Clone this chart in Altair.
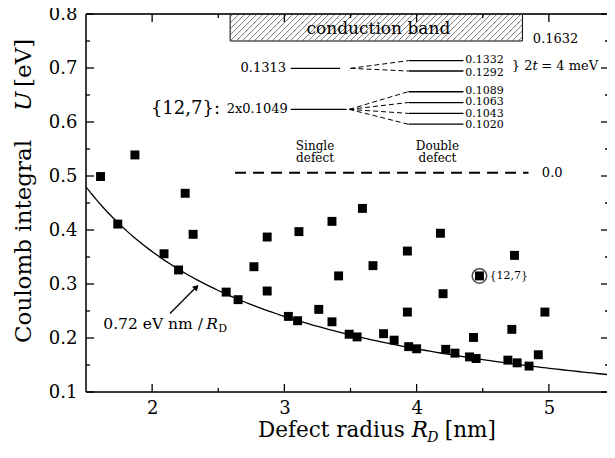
import altair as alt
import pandas as pd
import numpy as np

# ---------------- data ----------------
R_D = [1.61, 1.74, 1.87, 2.09, 2.20, 2.25, 2.31, 2.56, 2.65, 2.77, 2.87, 2.87,
       3.03, 3.10, 3.11, 3.26, 3.36, 3.36, 3.41, 3.49, 3.55, 3.59, 3.67, 3.75,
       3.83, 3.93, 3.93, 3.94, 4.00, 4.18, 4.20, 4.22, 4.29, 4.40, 4.43, 4.45,
       4.475, 4.69, 4.72, 4.74, 4.76, 4.85, 4.92, 4.97]
U = [0.499, 0.411, 0.539, 0.356, 0.326, 0.468, 0.392, 0.285, 0.271, 0.332, 0.387, 0.287,
     0.240, 0.232, 0.397, 0.253, 0.416, 0.230, 0.315, 0.207, 0.202, 0.440, 0.334, 0.208,
     0.196, 0.361, 0.248, 0.184, 0.180, 0.394, 0.282, 0.179, 0.172, 0.165, 0.201, 0.162,
     0.315, 0.159, 0.216, 0.353, 0.154, 0.148, 0.169, 0.248]
HIGHLIGHT_R = [4.475]
HIGHLIGHT_U = [0.315]
HIGHLIGHT_LABEL = ["{12,7}"]
FIT_COEF = 0.72  # U = 0.72 eV nm / R_D

X_MAJOR = [2, 3, 4, 5]
X_MINOR = [2.5, 3.5, 4.5]
Y_MAJOR = [0.1, 0.2, 0.3, 0.4, 0.5, 0.6, 0.7, 0.8]
Y_MINOR = [0.15, 0.25, 0.35, 0.45, 0.55, 0.65, 0.75]

# inset energy-level diagram (drawn in the data frame of the plot)
SINGLE_LEVELS = [0.6994, 0.6234]
DOUBLE_LEVELS = [0.7135, 0.6944, 0.656, 0.636, 0.616, 0.596]
DOUBLE_LABELS = ["0.1332", "0.1292", "0.1089", "0.1063", "0.1043", "0.1020"]
DOUBLE_LABEL_Y = [0.7148, 0.6916, 0.6577, 0.6369, 0.6157, 0.5953]
DOUBLE_PARENT = [0, 0, 1, 1, 1, 1]
ZERO_LEVEL = 0.506
BAND = dict(x0=2.59, x1=4.80, y0=0.75, y1=0.80)

# ---------------- layout ----------------
W, H = 521, 378
PX_PER_NM = 132.25
FONT = "DejaVu Serif"
XD = (1.5, 1.5 + W / PX_PER_NM)
YD = (0.1, 0.8)
kx = W / (XD[1] - XD[0])
ky = H / (YD[1] - YD[0])

xs = alt.Scale(domain=list(XD), nice=False, zero=False)
ys = alt.Scale(domain=list(YD), nice=False, zero=False)
xaxis = alt.Axis(values=X_MAJOR, format="d", title=None, ticks=False, tickSize=0,
                 domain=False, grid=False, labelFont=FONT, labelFontSize=18,
                 labelPadding=7, labelColor="black")
yaxis = alt.Axis(values=Y_MAJOR, format=".1f", title=None, ticks=False, tickSize=0,
                 domain=False, grid=False, labelFont=FONT, labelFontSize=18,
                 labelPadding=9, labelColor="black")


def X(f):
    return alt.X(f, type="quantitative", scale=xs, axis=xaxis)


def Y(f):
    return alt.Y(f, type="quantitative", scale=ys, axis=yaxis)


layers = []

# conduction band rectangle + hatching
band_df = pd.DataFrame([BAND])
layers.append(alt.Chart(band_df).mark_rect(fill="white", stroke="black", strokeWidth=1).encode(
    x=X("x0"), x2="x1", y=Y("y0"), y2="y1"))
x0p, x1p = (BAND["x0"] - XD[0]) * kx, (BAND["x1"] - XD[0]) * kx
hp = (BAND["y1"] - BAND["y0"]) * ky
hatch = []
for s in np.arange(x0p - hp + 3, x1p, 6.0):
    xa, xb, ya, yb = s, s + hp, 0.0, hp
    if xa < x0p:
        ya += x0p - xa
        xa = x0p
    if xb > x1p:
        yb -= xb - x1p
        xb = x1p
    if xb - xa < 0.5:
        continue
    hatch.append(dict(xa=XD[0] + xa / kx, xb=XD[0] + xb / kx,
                      ya=BAND["y0"] + ya / ky, yb=BAND["y0"] + yb / ky))
layers.append(alt.Chart(pd.DataFrame(hatch)).mark_rule(color="#555555", strokeWidth=0.8).encode(
    x=X("xa"), x2="xb", y=Y("ya"), y2="yb"))

# fit curve U = 0.72 / R
layers.append(alt.Chart(alt.sequence(150, 551, 4, as_="r100")).transform_calculate(
    R="datum.r100 / 100").transform_calculate(Ufit=f"{FIT_COEF} / datum.R").mark_line(
    color="black", strokeWidth=1.3, clip=True).encode(x=X("R"), y=Y("Ufit"), order="R:Q"))

# data points
pts = pd.DataFrame({"R": R_D, "U": U})
layers.append(alt.Chart(pts).mark_square(size=80, color="black", opacity=1).encode(
    x=X("R"), y=Y("U")))

# highlighted point
hl = pd.DataFrame({"R": HIGHLIGHT_R, "U": HIGHLIGHT_U, "lab": HIGHLIGHT_LABEL})
layers.append(alt.Chart(hl).mark_point(shape="circle", filled=False, size=210, color="black",
                                       strokeWidth=1.5).encode(x=X("R"), y=Y("U")))
layers.append(alt.Chart(hl).mark_text(align="left", baseline="middle", dx=10, font=FONT,
                                      fontSize=11, color="black").encode(
    x=X("R"), y=Y("U"), text="lab"))

# energy level lines
solid = [dict(x=3.048, x2=3.421, y=SINGLE_LEVELS[0]), dict(x=3.048, x2=3.47, y=SINGLE_LEVELS[1])]
solid += [dict(x=3.938, x2=4.354, y=v) for v in DOUBLE_LEVELS]
layers.append(alt.Chart(pd.DataFrame(solid)).mark_rule(color="black", strokeWidth=1.3).encode(
    x=X("x"), x2="x2", y=Y("y")))
fan = []
for v, p in zip(DOUBLE_LEVELS, DOUBLE_PARENT):
    fan.append(dict(x=3.50 if p == 0 else 3.49, y=SINGLE_LEVELS[p], x2=3.935, y2=v))
layers.append(alt.Chart(pd.DataFrame(fan)).mark_rule(color="black", strokeWidth=1,
                                                     strokeDash=[5, 3]).encode(
    x=X("x"), x2="x2", y=Y("y"), y2="y2"))
layers.append(alt.Chart(pd.DataFrame([dict(x=2.627, x2=4.846, y=ZERO_LEVEL)])).mark_rule(
    color="black", strokeWidth=2, strokeDash=[11, 7]).encode(x=X("x"), x2="x2", y=Y("y")))

# arrow to fit curve
layers.append(alt.Chart(pd.DataFrame([dict(x=2.135, y=0.2453, x2=2.33, y2=0.2935)])).mark_rule(
    color="black", strokeWidth=1.3).encode(x=X("x"), x2="x2", y=Y("y"), y2="y2"))
layers.append(alt.Chart(pd.DataFrame([dict(x=2.335, y=0.2945)])).mark_point(
    shape="triangle-up", angle=45, filled=True, size=45, color="black", opacity=1).encode(
    x=X("x"), y=Y("y")))


def texts(rows, align="left", style="normal", baseline="middle"):
    df = pd.DataFrame(rows)
    for c in ("dx", "dy"):
        if c not in df:
            df[c] = 0.0
    df[["dx", "dy"]] = df[["dx", "dy"]].fillna(0.0)
    ch = []
    for (dx, dy, fs), g in df.groupby(["dx", "dy", "fs"]):
        ch.append(alt.Chart(g).mark_text(align=align, baseline=baseline, font=FONT,
                                         fontSize=float(fs), fontStyle=style, color="black",
                                         dx=float(dx), dy=float(dy)).encode(
            x=X("x"), y=Y("y"), text="t"))
    return ch


left_rows = [
    dict(t="0.1632", x=4.879, y=0.7537, fs=13),
    dict(t="0.0", x=4.947, y=ZERO_LEVEL, fs=13),
    dict(t="2x0.1049", x=2.564, y=0.6234, fs=13),
    dict(t="} 2", x=4.72, y=0.7036, fs=13),
    dict(t="= 4 meV", x=4.72, y=0.7036, fs=13, dx=29.5),
    dict(t="0.72 eV nm /", x=1.631, y=0.2268, fs=15.5),
    dict(t="D", x=1.631, y=0.2268, fs=11, dx=115, dy=5),
]
left_rows += [dict(t=l, x=4.367, y=yv, fs=11) for l, yv in zip(DOUBLE_LABELS, DOUBLE_LABEL_Y)]
layers += texts(left_rows, "left")
layers += texts([dict(t="t", x=4.72, y=0.7036, fs=13, dx=20.7),
                 dict(t="R", x=1.631, y=0.2268, fs=15.5, dx=103)], "left", "italic")
layers += texts([dict(t="0.1313", x=3.013, y=0.6994, fs=13),
                 dict(t="{12,7}:", x=2.513, y=0.624, fs=18)], "right")
layers += texts([dict(t="conduction band", x=3.711, y=0.772, fs=17),
                 dict(t="Single", x=3.232, y=0.5556, fs=12),
                 dict(t="defect", x=3.232, y=0.5329, fs=12),
                 dict(t="Double", x=4.157, y=0.5556, fs=12),
                 dict(t="defect", x=4.157, y=0.5329, fs=12)], "center")

# frame (top, left, bottom; the right border lies beyond the picture's edge)
frame = alt.Chart(pd.DataFrame({"v": [0]}))
layers += [
    frame.mark_rule(color="#333333", strokeWidth=2).encode(
        x=alt.value(0), x2=alt.value(W), y=alt.value(0)),
    frame.mark_rule(color="black", strokeWidth=1.5).encode(
        x=alt.value(0), y=alt.value(0), y2=alt.value(H)),
    frame.mark_rule(color="black", strokeWidth=1.5).encode(
        x=alt.value(0), x2=alt.value(W), y=alt.value(H)),
]

# inward ticks on all four sides
MAJ, MIN = 8, 4
tk = []
for vals, L in ((Y_MAJOR, MAJ), (Y_MINOR, MIN)):
    d = pd.DataFrame({"v": vals})
    tk.append(alt.Chart(d).mark_rule(color="black", strokeWidth=1.3).encode(
        y=Y("v"), x=alt.value(0), x2=alt.value(L)))
    tk.append(alt.Chart(d).mark_rule(color="black", strokeWidth=1.3).encode(
        y=Y("v"), x=alt.value(W), x2=alt.value(W - L + 2)))
for vals, L in ((X_MAJOR, MAJ), (X_MINOR, MIN)):
    d = pd.DataFrame({"v": vals})
    tk.append(alt.Chart(d).mark_rule(color="black", strokeWidth=1.3).encode(
        x=X("v"), y=alt.value(H), y2=alt.value(H - L)))
    tk.append(alt.Chart(d).mark_rule(color="black", strokeWidth=1.3).encode(
        x=X("v"), y=alt.value(0), y2=alt.value(L)))
layers += tk

# axis titles (with italic symbols)


def ttl(s, x, y, fs, style="normal", angle=0):
    return alt.Chart(pd.DataFrame({"t": [s]})).mark_text(
        align="left", baseline="alphabetic", font=FONT, fontSize=fs, fontStyle=style,
        color="black", angle=angle).encode(x=alt.value(x), y=alt.value(y), text="t")


XFS = 21.5
xt0, xbase = 172, 423
layers += [ttl("Defect radius", xt0, xbase, XFS),
           ttl("R", xt0 + 153.8, xbase, XFS, style="italic"),
           ttl("D", xt0 + 153.8 + 15.4, xbase + 5, 14, style="italic"),
           ttl("[nm]", xt0 + 153.8 + 15.4 + 10.8 + 6.8, xbase, XFS)]
YFS = 23
yt0, ybase = 329, -55
layers += [ttl("Coulomb integral", ybase, yt0, YFS, angle=270),
           ttl("U", ybase, yt0 - 232, YFS, style="italic", angle=270),
           ttl("[eV]", ybase, yt0 - 232 - 16.8 - 7.3, YFS, angle=270)]

chart = alt.layer(*layers).properties(
    width=W, height=H,
    autosize=alt.AutoSizeParams(type="none"),
    padding={"left": 78, "top": 6, "right": 0, "bottom": 50},
).configure_view(stroke=None).configure(background="white")

chart.save("out.html", embed_options={"renderer": "svg", "actions": False})
